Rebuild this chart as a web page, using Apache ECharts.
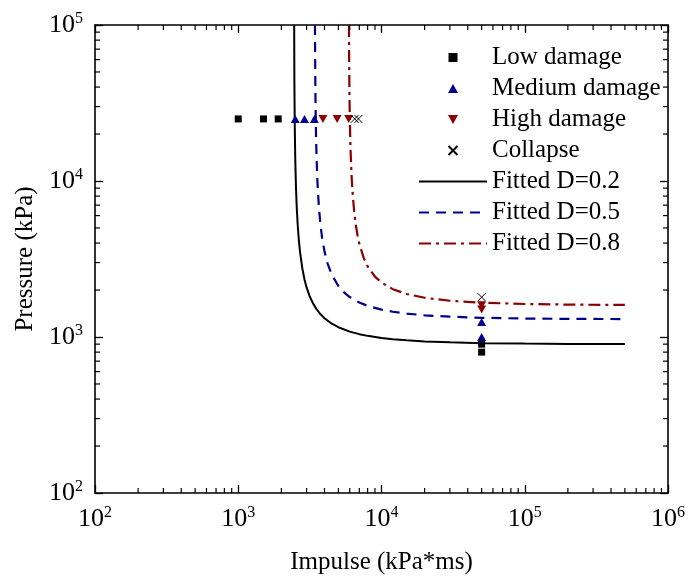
<!DOCTYPE html>
<html>
<head>
<meta charset="utf-8">
<script src="https://cdn.jsdelivr.net/npm/echarts@6/dist/echarts.min.js"></script>
<style>
html,body{margin:0;padding:0;background:#fff;}
#chart{width:688px;height:583px;}
</style>
</head>
<body>
<div id="chart"></div>
<script>
// ---- data ----
var xTickExponents = [2, 3, 4, 5, 6];
var yTickExponents = [2, 3, 4, 5];
var minorMultipliers = [2, 3, 4, 5, 6, 7, 8, 9];

var lowDamage = [[1000,25000],[1500,25000],[1900,25000],[50000,900],[50000,800]];
var mediumDamage = [[2500,25000],[2900,25000],[3400,25000],[50000,1250],[50000,1000]];
var highDamage = [[3900,25000],[4900,25000],[5900,25000],[50000,1600],[50000,1500]];
var collapse = [[6500,25000],[6900,25000],[50000,1800]];

var fittedD02 = [[2457,100000],[2465,44000],[2480,22600],[2500,13900],[2530,9000],[2560,6800],[2600,5230],[2650,4150],[2700,3500],[2800,2760],[2900,2340],[3000,2080],[3150,1830],[3300,1665],[3500,1520],[3700,1420],[4000,1320],[4500,1217],[5000,1155],[6000,1083],[7000,1043],[8000,1017],[10000,986],[12000,968],[15000,952],[20000,937],[30000,924],[50000,913],[100000,907],[200000,903],[500000,901]];
var fittedD05 = [[3433,100000],[3440,66300],[3460,33800],[3490,19870],[3520,14300],[3560,10590],[3600,8520],[3670,6500],[3750,5240],[3850,4320],[4000,3540],[4200,2967],[4500,2504],[5000,2123],[5500,1925],[6000,1804],[7000,1663],[8000,1584],[10000,1498],[12000,1452],[15000,1412],[20000,1378],[30000,1349],[50000,1328],[100000,1313],[200000,1307],[500000,1303]];
var fittedD08 = [[5926,100000],[5940,66600],[5970,38740],[6000,27600],[6050,18930],[6100,14600],[6200,10270],[6300,8100],[6450,6330],[6600,5314],[6800,4490],[7000,3964],[7500,3225],[8000,2838],[9000,2439],[10000,2234],[12000,2026],[15000,1886],[20000,1784],[30000,1708],[50000,1659],[100000,1628],[200000,1613],[500000,1605]];

var X_MIN = 100, X_MAX = 1000000, Y_MIN = 100, Y_MAX = 100000;
var FONT = '"Liberation Serif","Times New Roman",serif';
var BLUE = '#00008B', RED = '#8B0000';

// minor tick values
var xMinor = [], yMinor = [];
for (var e = 2; e < 6; e++) minorMultipliers.forEach(function (m) { xMinor.push(m * Math.pow(10, e)); });
for (var e2 = 2; e2 < 5; e2++) minorMultipliers.forEach(function (m) { yMinor.push(m * Math.pow(10, e2)); });
var minorData = xMinor.map(function (v) { return [v, Y_MIN, 0]; })
  .concat(yMinor.map(function (v) { return [X_MIN, v, 1]; }));

function expLabel(v) {
  var ex = Math.round(Math.log10(v));
  return '{b|10}{s|' + ex + '}';
}
var rich = {
  b: { fontFamily: FONT, fontSize: 26, color: '#000', lineHeight: 30 },
  s: { fontFamily: FONT, fontSize: 16, color: '#000', lineHeight: 30, padding: [0, 0, 13, 0] }
};

var axisCommon = {
  type: 'log', logBase: 10,
  axisLine: { show: true, lineStyle: { color: '#000', width: 1.6 } },
  axisTick: { show: true, inside: true, length: 8, lineStyle: { color: '#000', width: 1.3 } },
  splitLine: { show: false },
  minorTick: { show: false }
};

var lineLegend = function (name) { return { name: name, itemStyle: { opacity: 0 } }; };

var chart = echarts.init(document.getElementById('chart'), null, { renderer: 'canvas' });
chart.setOption({
  animation: false,
  backgroundColor: '#fff',
  grid: { left: 95, right: 20, top: 25, bottom: 90 },
  xAxis: [
    Object.assign({}, axisCommon, {
      min: X_MIN, max: X_MAX, splitNumber: 4, position: 'bottom',
      name: 'Impulse (kPa*ms)', nameLocation: 'middle', nameGap: 57,
      nameTextStyle: { fontFamily: FONT, fontSize: 25, color: '#000' },
      axisLabel: { margin: 11, formatter: expLabel, rich: rich }
    }),
    Object.assign({}, axisCommon, {
      min: X_MIN, max: X_MAX, splitNumber: 4, position: 'top',
      axisLabel: { show: false }
    })
  ],
  yAxis: [
    Object.assign({}, axisCommon, {
      min: Y_MIN, max: Y_MAX, splitNumber: 3, position: 'left',
      name: 'Pressure (kPa)', nameLocation: 'middle', nameGap: 50,
      nameTextStyle: { fontFamily: FONT, fontSize: 25, color: '#000' },
      axisLabel: { margin: 12, formatter: expLabel, rich: rich }
    }),
    Object.assign({}, axisCommon, {
      min: Y_MIN, max: Y_MAX, splitNumber: 3, position: 'right',
      axisLabel: { show: false }
    })
  ],
  legend: {
    orient: 'vertical', left: 418, top: 42, padding: 0,
    itemWidth: 68, itemHeight: 9, itemGap: 0,
    textStyle: { fontFamily: FONT, fontSize: 25, color: '#000', lineHeight: 31 },
    selectedMode: false,
    data: ['Low damage', 'Medium damage', 'High damage', 'Collapse',
      lineLegend('Fitted D=0.2'), lineLegend('Fitted D=0.5'), lineLegend('Fitted D=0.8')]
  },
  series: [
    {
      name: 'Low damage', type: 'scatter', symbol: 'path://M0,0L10,0L10,10L0,10Z', symbolSize: 7,
      itemStyle: { color: '#000', opacity: 1 }, data: lowDamage, z: 5
    },
    {
      name: 'Medium damage', type: 'scatter', symbol: 'path://M5,0L10,9L0,9Z', symbolSize: [9, 8],
      itemStyle: { color: BLUE, opacity: 1 }, data: mediumDamage, z: 5
    },
    {
      name: 'High damage', type: 'scatter', symbol: 'path://M0,0L10,0L5,9Z', symbolSize: [9, 8],
      itemStyle: { color: RED, opacity: 1 }, data: highDamage, z: 5
    },
    {
      name: 'Collapse', type: 'scatter', symbol: 'path://M0,0L10,10M10,0L0,10', symbolSize: 8,
      itemStyle: { color: 'rgba(0,0,0,0)', borderColor: '#000', borderWidth: 1, opacity: 1 }, data: collapse, z: 5
    },
    {
      name: 'Fitted D=0.2', type: 'line', showSymbol: false, symbol: 'none',
      lineStyle: { color: '#000', width: 2, type: 'solid' }, itemStyle: { color: '#000' },
      data: fittedD02, z: 3
    },
    {
      name: 'Fitted D=0.5', type: 'line', showSymbol: false, symbol: 'none',
      lineStyle: { color: BLUE, width: 2.2, type: [10, 7] }, itemStyle: { color: BLUE },
      data: fittedD05, z: 3
    },
    {
      name: 'Fitted D=0.8', type: 'line', showSymbol: false, symbol: 'none',
      lineStyle: { color: RED, width: 2.2, type: [12, 5, 3, 5] }, itemStyle: { color: RED },
      data: fittedD08, z: 3
    },
    {
      name: 'minorTicks', type: 'custom', silent: true, clip: false, z: 10,
      data: minorData,
      renderItem: function (params, api) {
        var v0 = api.value(0), v1 = api.value(1), kind = api.value(2);
        var L = 5, children = [];
        var style = { stroke: '#000', lineWidth: 1.2 };
        if (kind === 0) {
          var pb = api.coord([v0, Y_MIN]);
          var pt = api.coord([v0, Y_MAX]);
          children.push({ type: 'line', shape: { x1: pb[0], y1: pb[1], x2: pb[0], y2: pb[1] - L }, style: style });
          children.push({ type: 'line', shape: { x1: pt[0], y1: pt[1], x2: pt[0], y2: pt[1] + L }, style: style });
        } else {
          var pl = api.coord([X_MIN, v1]);
          var pr = api.coord([X_MAX, v1]);
          children.push({ type: 'line', shape: { x1: pl[0], y1: pl[1], x2: pl[0] + L, y2: pl[1] }, style: style });
          children.push({ type: 'line', shape: { x1: pr[0], y1: pr[1], x2: pr[0] - L, y2: pr[1] }, style: style });
        }
        return { type: 'group', children: children };
      }
    }
  ]
});
</script>
</body>
</html>
